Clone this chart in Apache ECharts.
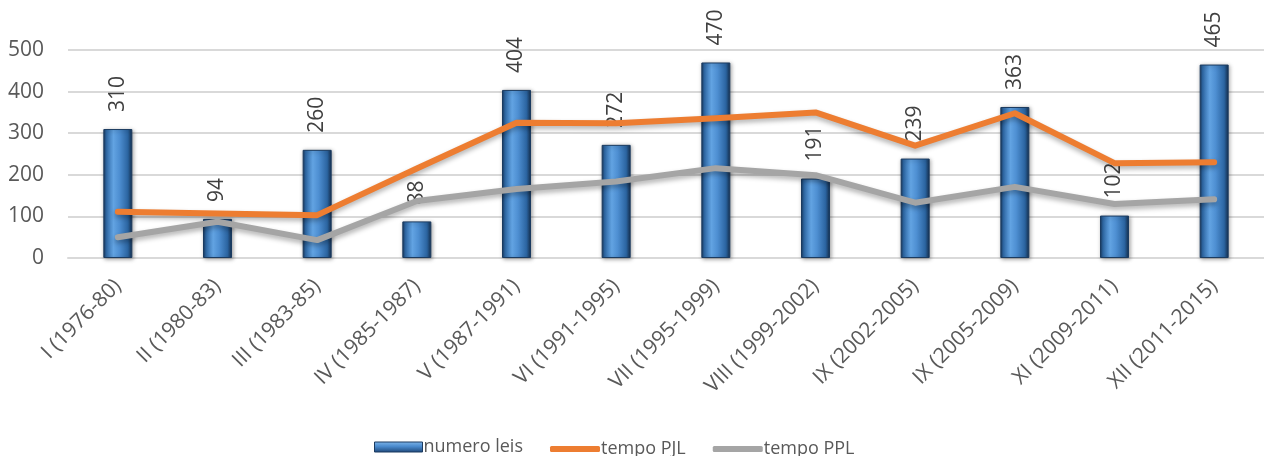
<!DOCTYPE html>
<html>
<head>
<meta charset="utf-8">
<script src="https://cdn.jsdelivr.net/npm/echarts@6/dist/echarts.min.js"></script>
<style>
  html, body { margin: 0; padding: 0; background: #ffffff; }
  #chart { width: 1264px; height: 456px; }
</style>
</head>
<body>
<div id="chart"></div>
<script>
// Legislaturas e respetivos valores
const categories = [
  'I (1976-80)', 'II (1980-83)', 'III (1983-85)', 'IV (1985-1987)',
  'V (1987-1991)', 'VI (1991-1995)', 'VII (1995-1999)', 'VIII (1999-2002)',
  'IX (2002-2005)', 'IX (2005-2009)', 'XI (2009-2011)', 'XII (2011-2015)'
];
const numeroLeis = [310, 94, 260, 88, 404, 272, 470, 191, 239, 363, 102, 465];
const tempoPJL = [111, 107, 103, 215, 325, 324, 336, 350, 270, 348, 228, 230];
const tempoPPL = [50, 87, 43, 137, 166, 184, 216, 199, 133, 171, 130, 141];
const yTicks = [0, 100, 200, 300, 400, 500];

const FONT = '"Open Sans", "Liberation Sans", sans-serif';

// bevelled blue column fill
const barFill = new echarts.graphic.LinearGradient(0, 0, 1, 0, [
  { offset: 0.00, color: '#173456' },
  { offset: 0.10, color: '#2f69a6' },
  { offset: 0.35, color: '#62a3e2' },
  { offset: 0.55, color: '#4e8fd2' },
  { offset: 0.85, color: '#2b64a0' },
  { offset: 1.00, color: '#142d4b' }
]);

const legendBarFill = new echarts.graphic.LinearGradient(0, 0, 0, 1, [
  { offset: 0.00, color: '#7fb6ea' },
  { offset: 0.45, color: '#4a8acd' },
  { offset: 1.00, color: '#1d4677' }
]);

const chart = echarts.init(document.getElementById('chart'), null, { renderer: 'canvas' });

chart.setOption({
  animation: false,
  backgroundColor: '#ffffff',
  textStyle: { fontFamily: FONT },
  grid: { left: 68, top: 50, width: 1201, height: 208, containLabel: false },
  legend: [
    {
      data: [{ name: 'numero leis', icon: 'rect', itemStyle: { color: legendBarFill, borderColor: '#1b3b60', borderWidth: 1 } }],
      left: 369, top: 433,
      itemWidth: 48, itemHeight: 10, itemGap: 4,
      textStyle: { fontFamily: FONT, fontSize: 18, color: '#595959', padding: [0, 0, 0, -4] }
    },
    {
      data: [
        { name: 'tempo PJL', icon: 'roundRect' },
        { name: 'tempo PPL', icon: 'roundRect' }
      ],
      left: 545, top: 435,
      itemWidth: 50, itemHeight: 6, itemGap: 27,
      textStyle: { fontFamily: FONT, fontSize: 18, color: '#595959', padding: [0, 0, 0, -4] }
    }
  ],
  xAxis: {
    type: 'category',
    data: categories,
    boundaryGap: true,
    axisLine: { lineStyle: { color: '#d9d9d9', width: 2 } },
    axisTick: { show: false },
    axisLabel: {
      interval: 0,
      rotate: 45,
      margin: 25,
      fontFamily: FONT,
      fontSize: 21,
      color: '#595959'
    }
  },
  yAxis: {
    type: 'value',
    min: yTicks[0],
    max: yTicks[yTicks.length - 1],
    interval: 100,
    axisLine: { show: false },
    axisTick: { show: false },
    splitLine: { lineStyle: { color: '#d9d9d9', width: 2 } },
    axisLabel: {
      margin: 24,
      fontFamily: FONT,
      fontSize: 21,
      color: '#595959'
    }
  },
  series: [
    {
      name: 'numero leis',
      type: 'bar',
      data: numeroLeis,
      barWidth: 29,
      itemStyle: {
        color: barFill,
        borderColor: '#1b3b60',
        borderWidth: 1,
        shadowColor: 'rgba(0,0,0,0.35)',
        shadowBlur: 4,
        shadowOffsetX: 1,
        shadowOffsetY: 1
      },
      label: {
        show: true,
        position: 'top',
        distance: 17,
        rotate: 90,
        align: 'left',
        verticalAlign: 'middle',
        fontFamily: FONT,
        fontSize: 21,
        color: '#404040'
      },
      z: 2
    },
    {
      name: 'tempo PJL',
      type: 'line',
      data: tempoPJL,
      symbol: 'none',
      itemStyle: { color: '#ed7d31' },
      lineStyle: {
        color: '#ed7d31',
        width: 6,
        cap: 'round',
        join: 'round',
        shadowColor: 'rgba(0,0,0,0.3)',
        shadowBlur: 5,
        shadowOffsetY: 3
      },
      z: 3
    },
    {
      name: 'tempo PPL',
      type: 'line',
      data: tempoPPL,
      symbol: 'none',
      itemStyle: { color: '#a5a5a5' },
      lineStyle: {
        color: '#a5a5a5',
        width: 6,
        cap: 'round',
        join: 'round',
        shadowColor: 'rgba(0,0,0,0.3)',
        shadowBlur: 5,
        shadowOffsetY: 3
      },
      z: 3
    }
  ]
});
</script>
</body>
</html>
